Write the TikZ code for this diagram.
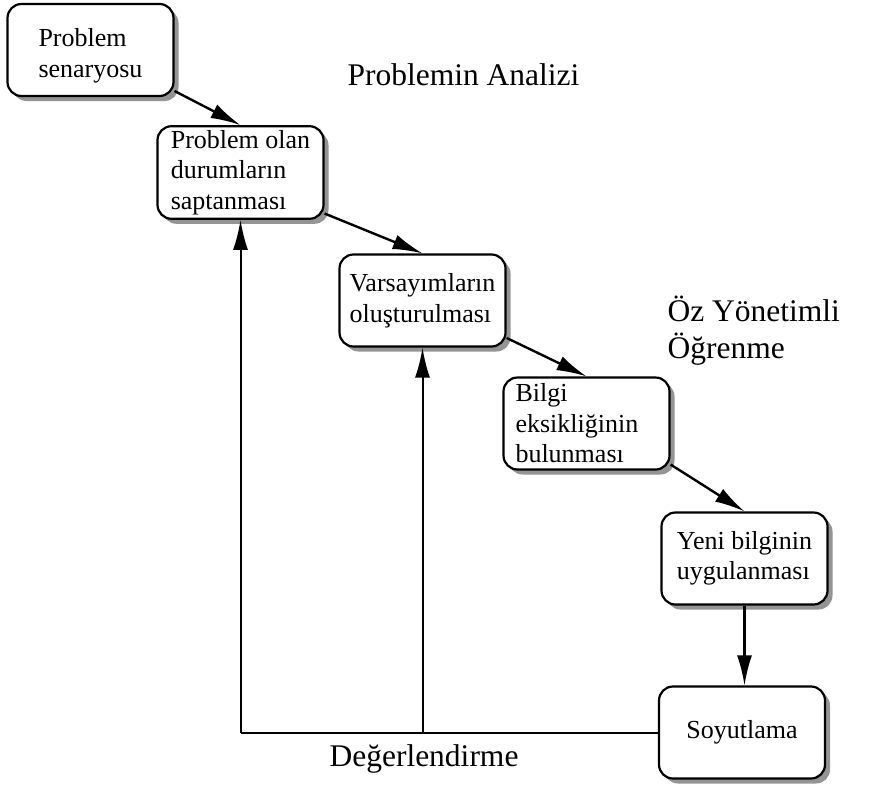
\documentclass[tikz,border=0pt]{standalone}
\usepackage{fontspec}
\setmainfont{Liberation Serif}
\usetikzlibrary{arrows.meta,shadows,calc}
\begin{document}
\begin{tikzpicture}[x=1pt,y=-1pt,
  stepbox/.style={draw, line width=2.2pt, rounded corners=14pt, fill=white,
    minimum width=166pt, minimum height=92pt, align=left, inner sep=4pt,
    font=\fontsize{26}{30.5}\selectfont,
    drop shadow={shadow xshift=5pt, shadow yshift=-5pt, fill=black!42, opacity=1}},
  tip/.style={-{Latex[length=30pt,width=15pt]}},
  flow/.style={line width=2.4pt, tip},
  back/.style={line width=2pt},
  lbl/.style={font=\fontsize{31.5}{37}\selectfont, align=left}]
\useasboundingbox (0,0) rectangle (896,787);
\fill[white] (0,0) rectangle (896,787);

\node[stepbox] (B1) at (90.5,50) {\rule{0pt}{30pt}Problem\\senaryosu};
\node[stepbox] (B2) at (240.5,172.5) {Problem olan\\durumların\\saptanması};
\node[stepbox] (B3) at (422.5,300.5) {Varsayımların\\oluşturulması};
\node[stepbox, text width=142pt] (B4) at (586.5,423.5) {Bilgi\\eksikliğinin\\bulunması};
\node[stepbox] (B5) at (744.5,558.5) {Yeni bilginin\\uygulanması};
\node[stepbox] (B6) at (742,732.5) {Soyutlama};

\node[lbl, anchor=north west] (T1) at (344,60) {Problemin Analizi};
\node[lbl, anchor=north west] (T2) at (664,292) {Öz Yönetimli\\Öğrenme};
\node[lbl, anchor=base] (T3) at (424,766) {Değerlendirme};

\draw[flow] (B1.-26) -- (B2.north);
\draw[flow] (B2.-26) -- (B3.north);
\draw[flow] (B3.-24) -- (B4.north);
\draw[flow] (B4.-26) -- (B5.north);
\draw[back, line width=2.2pt, tip] (B5.south) -- (B5.south |- B6.north);

\draw[back] (B6.west) -- (B2.south |- B6.west);
\draw[back, tip] (B2.south |- B6.west) -- (B2.south);
\draw[back, tip] (B3.south |- B6.west) -- (B3.south);
\end{tikzpicture}
\end{document}
